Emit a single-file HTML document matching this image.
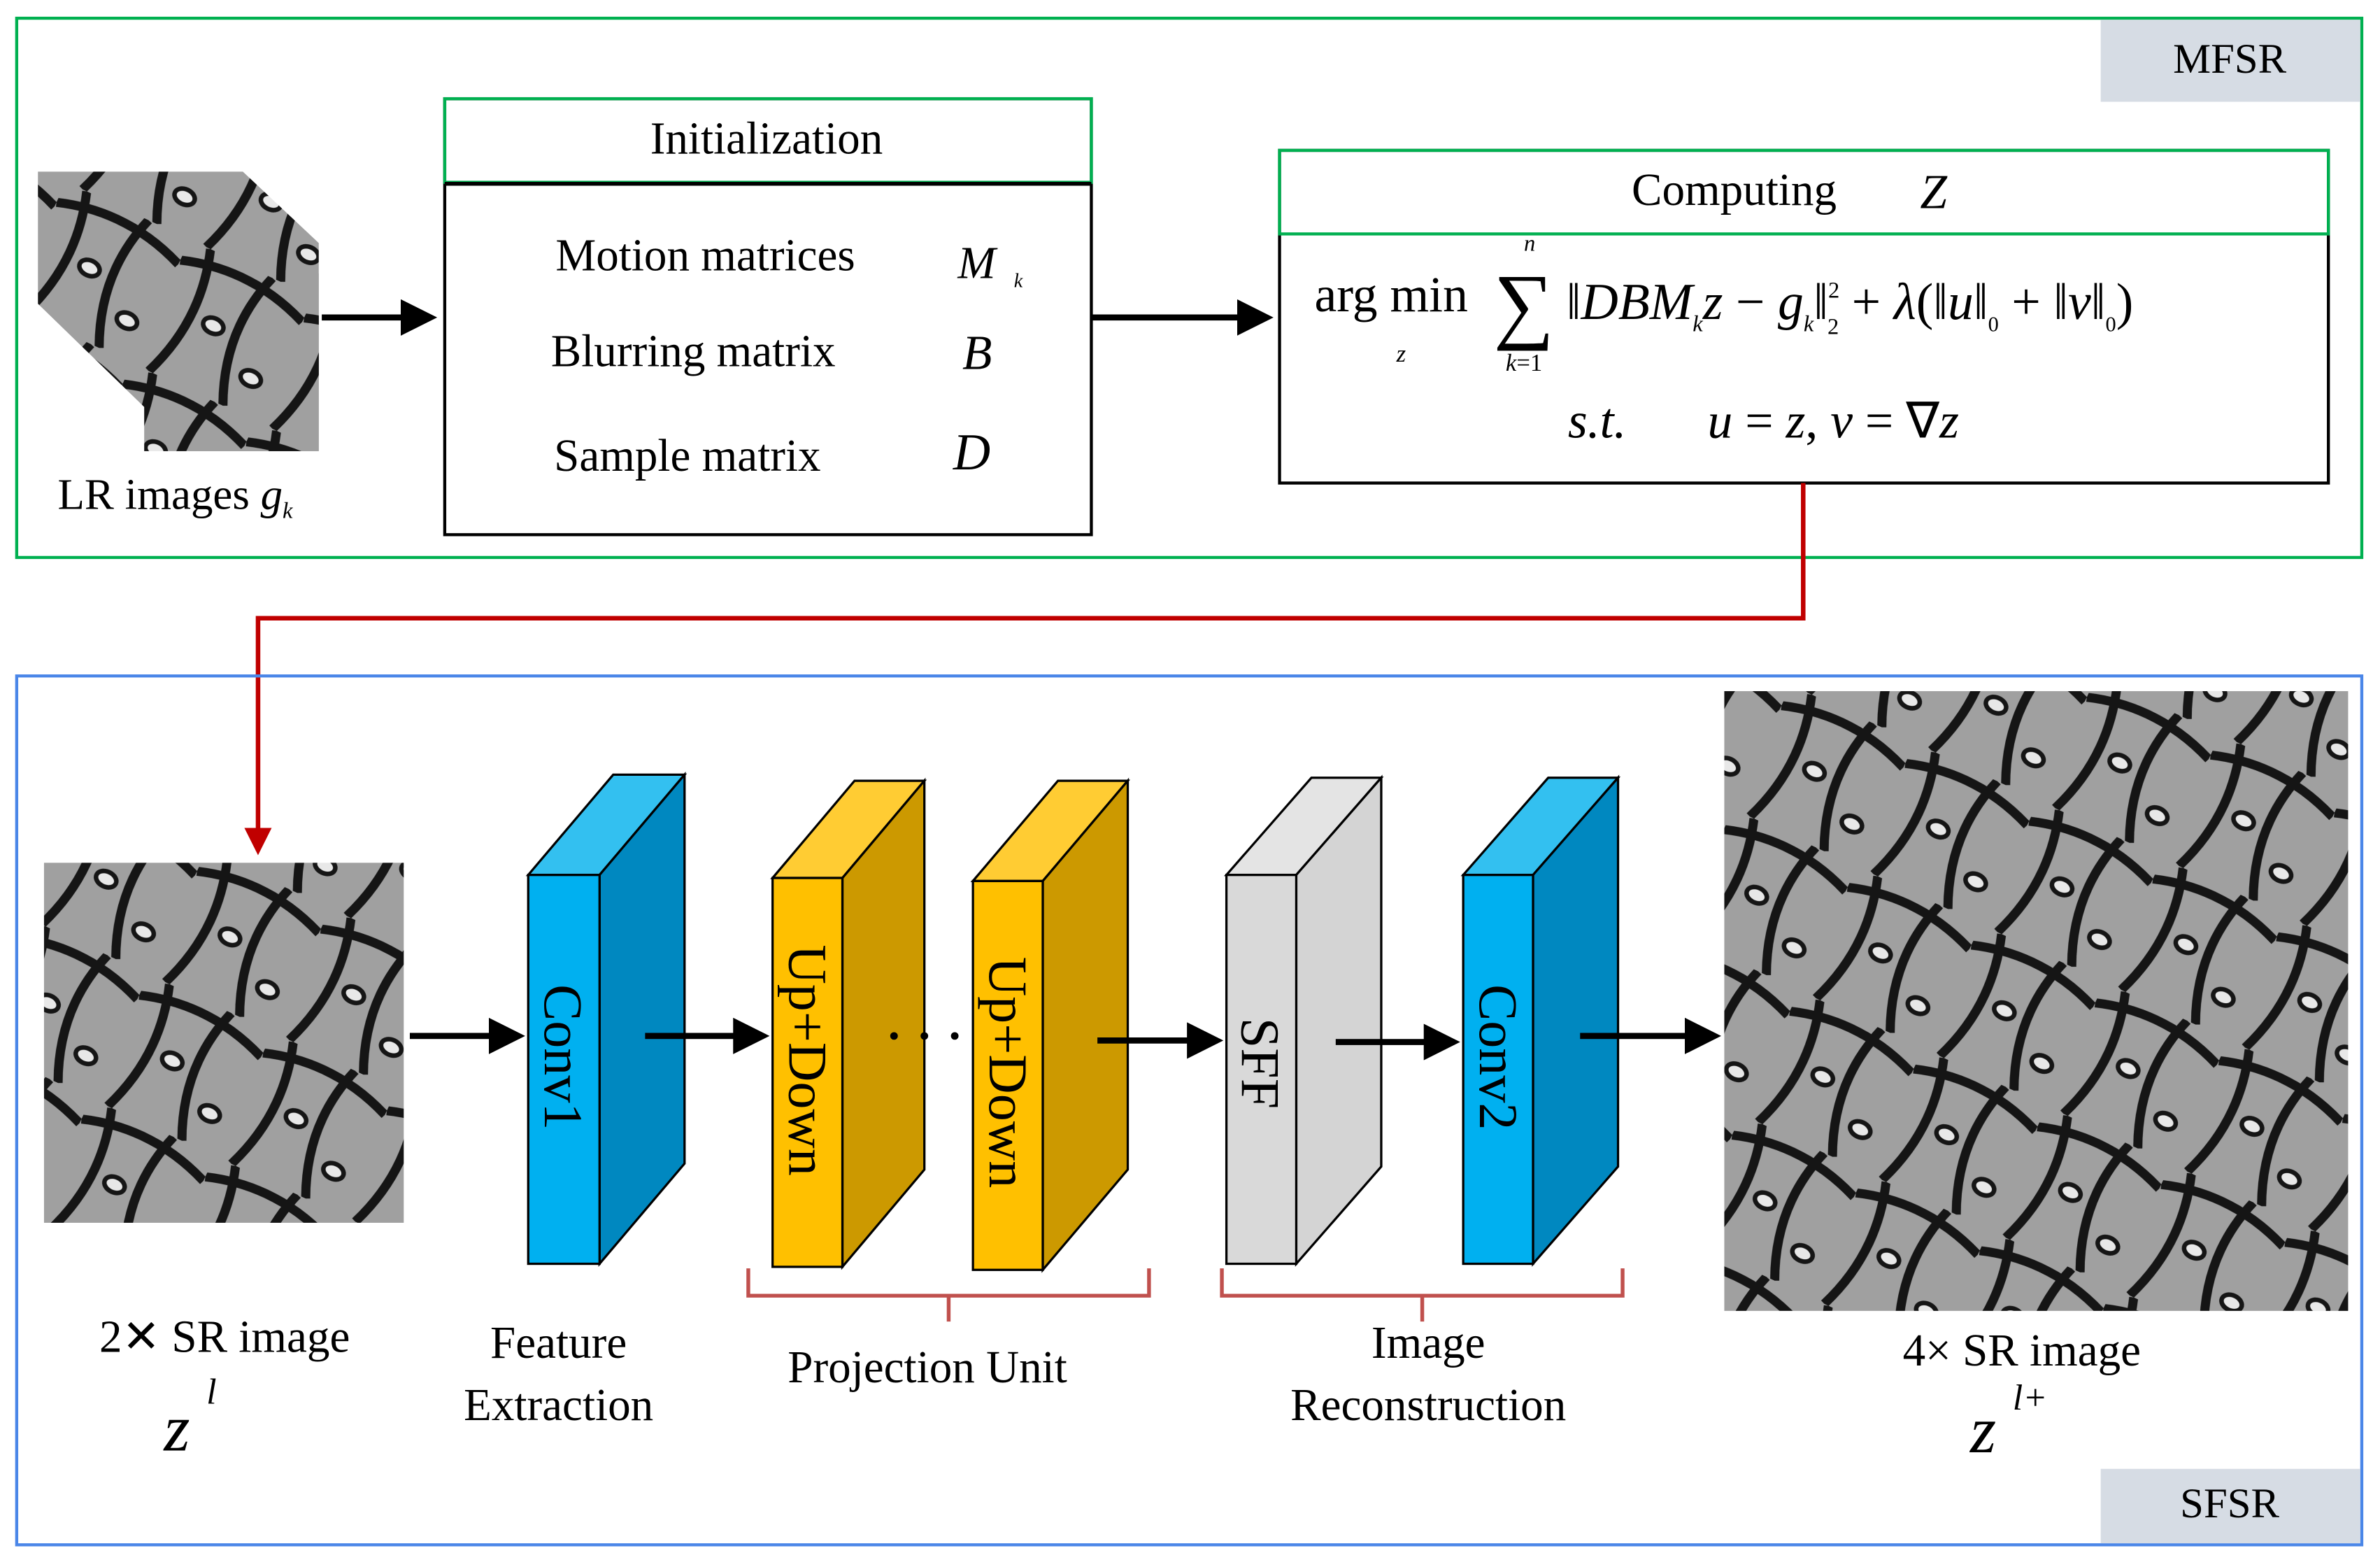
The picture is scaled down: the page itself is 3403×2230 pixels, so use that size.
<!DOCTYPE html>
<html><head><meta charset="utf-8"><style>
html,body{margin:0;padding:0;background:#fff}
svg{display:block}
svg text{font-family:"Liberation Serif","Times New Roman",serif;fill:#000}
</style></head><body>
<svg width="3403" height="2230" viewBox="0 0 1568 1027" preserveAspectRatio="none" xmlns="http://www.w3.org/2000/svg" font-family="Liberation Serif, serif">
<defs>
<pattern id="bf" width="90" height="90" patternUnits="userSpaceOnUse" patternTransform="rotate(25)">
<rect width="90" height="90" fill="#a0a0a0"/>
<path d="M0 15 Q45 0 90 18 M15 0 Q30 45 12 90 M60 0 Q45 45 66 90" stroke="#151515" stroke-width="6" fill="none"/>
<ellipse cx="75" cy="66" rx="7" ry="5" fill="#e8e8e8" stroke="#151515" stroke-width="3"/>
<ellipse cx="38" cy="45" rx="7" ry="5" fill="#e8e8e8" stroke="#151515" stroke-width="3"/>
</pattern>
<marker id="ab" markerWidth="6" markerHeight="6" refX="5" refY="3" orient="auto" markerUnits="strokeWidth"><path d="M0,0 L6,3 L0,6 z" fill="#000"/></marker>
<marker id="ar" markerWidth="6" markerHeight="6" refX="5" refY="3" orient="auto" markerUnits="strokeWidth"><path d="M0,0 L6,3 L0,6 z" fill="#c00000"/></marker>
</defs>

<rect x="11" y="12" width="1545" height="355" fill="none" stroke="#00b050" stroke-width="2"/>
<rect x="1384" y="13" width="171" height="54" fill="#d6dce4"/>
<text x="1469" y="48" font-size="28" text-anchor="middle">MFSR</text>

<polygon points="25,113 160,113 210,160 210,297 125,297 25,200" fill="url(#bf)"/>
<rect x="95" y="180" width="115" height="117" fill="url(#bf)"/>
<text x="38" y="335" font-size="29">LR images <tspan font-style="italic">g</tspan><tspan font-style="italic" font-size="15" dy="6">k</tspan></text>
<line x1="212" y1="209" x2="284" y2="209" stroke="#000" stroke-width="4" marker-end="url(#ab)"/>

<rect x="293" y="65" width="426" height="287" fill="none" stroke="#000" stroke-width="2"/>
<rect x="293" y="65" width="426" height="55" fill="none" stroke="#00b050" stroke-width="2"/>
<line x1="293" y1="121" x2="719" y2="121" stroke="#000" stroke-width="2.5"/>
<text x="505" y="101" font-size="30" text-anchor="middle">Initialization</text>
<text x="366" y="178" font-size="30">Motion matrices</text>
<text x="631" y="183" font-size="30" font-style="italic">M</text><text x="668" y="189" font-size="13" font-style="italic">k</text>
<text x="363" y="241" font-size="30">Blurring matrix</text>
<text x="634" y="243" font-size="32" font-style="italic">B</text>
<text x="365" y="310" font-size="30">Sample matrix</text>
<text x="628" y="309" font-size="34" font-style="italic">D</text>

<line x1="719" y1="209" x2="835" y2="209" stroke="#000" stroke-width="4" marker-end="url(#ab)"/>

<rect x="843" y="99" width="691" height="219" fill="none" stroke="#000" stroke-width="2"/>
<rect x="843" y="99" width="691" height="55" fill="none" stroke="#00b050" stroke-width="2"/>
<text x="1075" y="135" font-size="30">Computing</text>
<text x="1265" y="137" font-size="32" font-style="italic">Z</text>
<text x="866" y="205" font-size="33">arg min</text>
<text x="920" y="238" font-size="16" font-style="italic">z</text>
<text x="984" y="219" font-size="56">∑</text>
<text x="1004" y="165" font-size="15" font-style="italic">n</text>
<text x="992" y="244" font-size="16"><tspan font-style="italic">k</tspan>=1</text>
<text x="1032" y="210" font-size="34"><tspan>‖</tspan><tspan font-style="italic">DBM</tspan><tspan font-style="italic" font-size="15" dy="8">k</tspan><tspan font-style="italic" dy="-8">z</tspan> − <tspan font-style="italic">g</tspan><tspan font-style="italic" font-size="15" dy="8">k</tspan><tspan dy="-8">‖</tspan><tspan font-size="15" dy="-14">2</tspan><tspan font-size="15" dx="-8" dy="24">2</tspan><tspan dy="-10"> + </tspan><tspan font-style="italic">λ</tspan>(‖<tspan font-style="italic">u</tspan>‖<tspan font-size="14" dy="8">0</tspan><tspan dy="-8"> + ‖</tspan><tspan font-style="italic">v</tspan>‖<tspan font-size="14" dy="8">0</tspan><tspan dy="-8">)</tspan></text>
<text x="1033" y="288" font-size="33" font-style="italic">s.t.</text>
<text x="1125" y="288" font-size="33"><tspan font-style="italic">u</tspan> = <tspan font-style="italic">z</tspan>, <tspan font-style="italic">v</tspan> = ∇<tspan font-style="italic">z</tspan></text>

<polyline points="1188,318 1188,407 170,407 170,560" fill="none" stroke="#c00000" stroke-width="3" marker-end="url(#ar)"/>

<rect x="11" y="445" width="1545" height="572" fill="none" stroke="#4a86e8" stroke-width="2"/>
<rect x="1384" y="967" width="171" height="49" fill="#d6dce4"/>
<text x="1469" y="999" font-size="28" text-anchor="middle">SFSR</text>

<rect x="29" y="568" width="237" height="237" fill="url(#bf)"/>
<line x1="270" y1="682" x2="342" y2="682" stroke="#000" stroke-width="4" marker-end="url(#ab)"/>

<polygon points="348,576 395,576 451,510 404,510" fill="#33c0f0" stroke="#000" stroke-width="1.5"/>
<polygon points="395,576 451,510 451,766 395,832" fill="#0088c0" stroke="#000" stroke-width="1.5"/>
<rect x="348" y="576" width="47" height="256" fill="#00b0f0" stroke="#000" stroke-width="1.5"/>
<text transform="translate(359,696) rotate(90)" font-size="36" text-anchor="middle">Conv1</text>
<line x1="425" y1="682" x2="503" y2="682" stroke="#000" stroke-width="4" marker-end="url(#ab)"/>

<polygon points="509,578 555,578 609,514 563,514" fill="#ffcc33" stroke="#000" stroke-width="1.5"/>
<polygon points="555,578 609,514 609,770 555,834" fill="#cc9900" stroke="#000" stroke-width="1.5"/>
<rect x="509" y="578" width="46" height="256" fill="#ffc000" stroke="#000" stroke-width="1.5"/>
<text transform="translate(520,698) rotate(90)" font-size="36" text-anchor="middle">Up+Down</text>
<circle cx="589" cy="682" r="2.5" fill="#000"/><circle cx="609" cy="682" r="2.5" fill="#000"/><circle cx="629" cy="682" r="2.5" fill="#000"/>

<polygon points="641,580 687,580 743,514 697,514" fill="#ffcc33" stroke="#000" stroke-width="1.5"/>
<polygon points="687,580 743,514 743,770 687,836" fill="#cc9900" stroke="#000" stroke-width="1.5"/>
<rect x="641" y="580" width="46" height="256" fill="#ffc000" stroke="#000" stroke-width="1.5"/>
<text transform="translate(652,706) rotate(90)" font-size="36" text-anchor="middle">Up+Down</text>
<line x1="723" y1="685" x2="802" y2="685" stroke="#000" stroke-width="4" marker-end="url(#ab)"/>

<polygon points="808,576 854,576 910,512 864,512" fill="#e4e4e4" stroke="#000" stroke-width="1.5"/>
<polygon points="854,576 910,512 910,768 854,832" fill="#d4d4d4" stroke="#000" stroke-width="1.5"/>
<rect x="808" y="576" width="46" height="256" fill="#d9d9d9" stroke="#000" stroke-width="1.5"/>
<text transform="translate(818,700) rotate(90)" font-size="36" text-anchor="middle">SFF</text>
<line x1="880" y1="686" x2="958" y2="686" stroke="#000" stroke-width="4" marker-end="url(#ab)"/>

<polygon points="964,576 1010,576 1066,512 1020,512" fill="#33c0f0" stroke="#000" stroke-width="1.5"/>
<polygon points="1010,576 1066,512 1066,768 1010,832" fill="#0088c0" stroke="#000" stroke-width="1.5"/>
<rect x="964" y="576" width="46" height="256" fill="#00b0f0" stroke="#000" stroke-width="1.5"/>
<text transform="translate(975,696) rotate(90)" font-size="36" text-anchor="middle">Conv2</text>
<line x1="1041" y1="682" x2="1130" y2="682" stroke="#000" stroke-width="4" marker-end="url(#ab)"/>

<rect x="1136" y="455" width="411" height="408" fill="url(#bf)"/>

<path d="M493,835 V853 H757 V835 M625,853 V870" fill="none" stroke="#c0504d" stroke-width="2.5"/>
<path d="M805,835 V853 H1069 V835 M937,853 V870" fill="none" stroke="#c0504d" stroke-width="2.5"/>

<text x="148" y="890" font-size="30" text-anchor="middle">2✕ SR image</text>
<text x="108" y="955" font-size="44" font-style="italic">z</text><text x="136" y="924" font-size="24" font-style="italic">l</text>
<text x="368" y="894" font-size="30" text-anchor="middle">Feature</text>
<text x="368" y="935" font-size="30" text-anchor="middle">Extraction</text>
<text x="611" y="910" font-size="30" text-anchor="middle">Projection Unit</text>
<text x="941" y="894" font-size="30" text-anchor="middle">Image</text>
<text x="941" y="935" font-size="30" text-anchor="middle">Reconstruction</text>
<text x="1332" y="899" font-size="30" text-anchor="middle">4× SR image</text>
<text x="1298" y="956" font-size="44" font-style="italic">z</text><text x="1326" y="928" font-size="24" font-style="italic">l+</text>
</svg>
</body></html>
